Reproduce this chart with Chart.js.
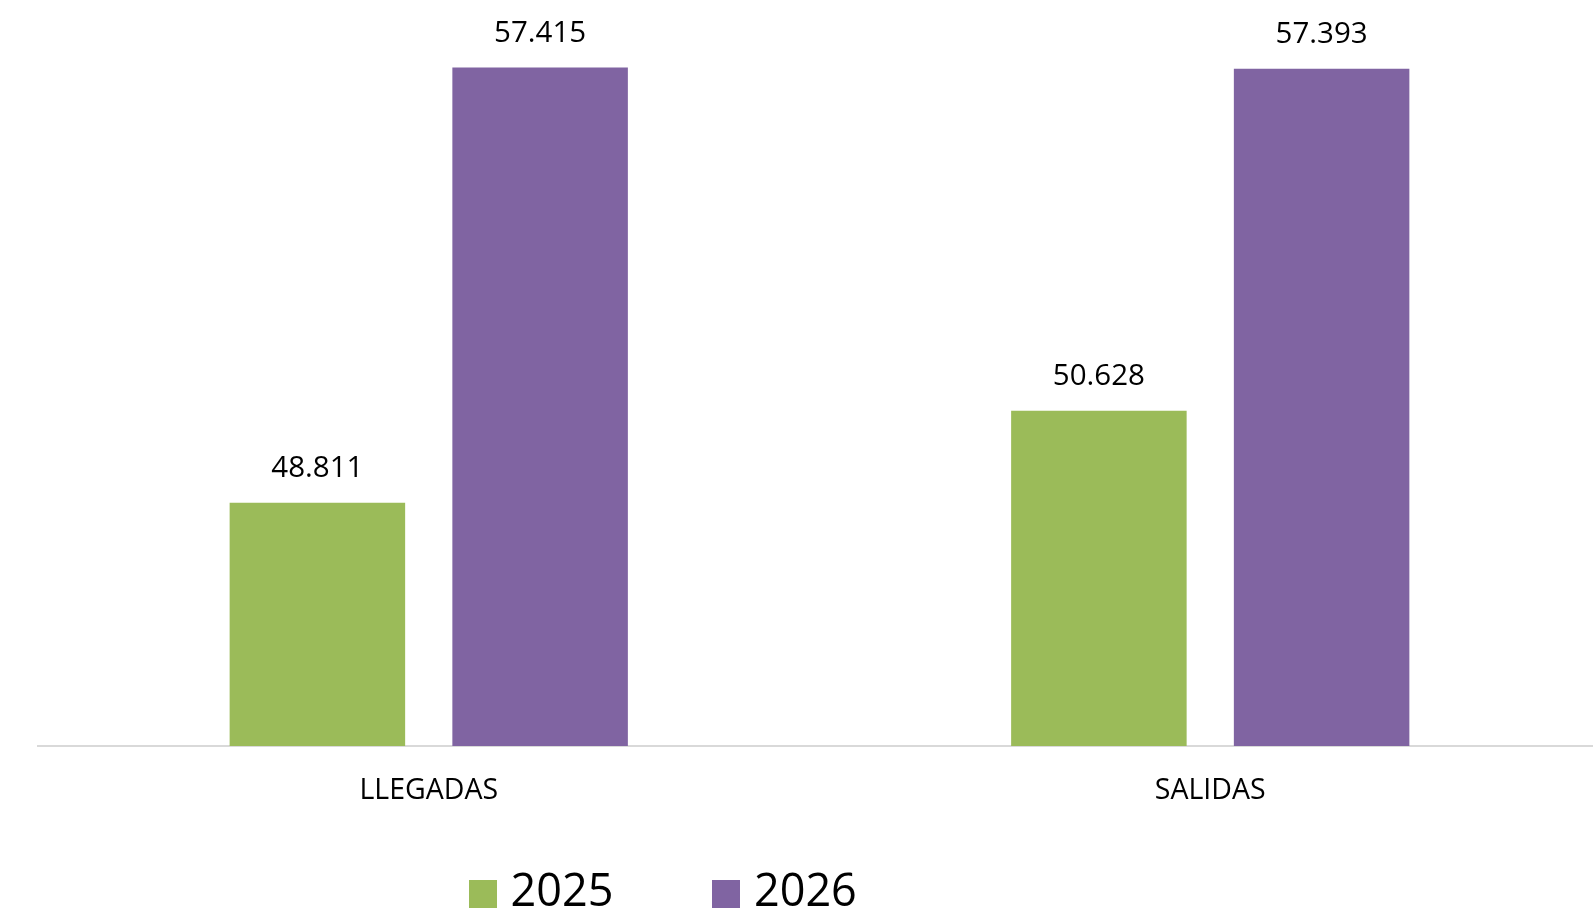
<!DOCTYPE html>
<html>
<head>
<meta charset="utf-8">
<script src="https://cdn.jsdelivr.net/npm/chart.js@4.4.1/dist/chart.umd.min.js"></script>
<style>
  html, body { margin: 0; padding: 0; background: #ffffff; overflow: hidden; }
  #wrap { width: 1601px; height: 915px; position: relative; }
</style>
</head>
<body>
<div id="wrap"><canvas id="c"></canvas></div>
<script>
const categories = ["LLEGADAS", "SALIDAS"];
const seriesNames = ["2025", "2026"];
const values2025 = [48811, 50628];
const values2026 = [57415, 57393];
const colors = ["#9BBB59", "#8064A2"];
const yMin = 44000;
const yMax = 58000;

function fmt(v) {
  const s = String(Math.round(v));
  return s.replace(/\B(?=(\d{3})+(?!\d))/g, ".");
}

const FONT = "'Open Sans', sans-serif";

function makeSwatch(color) {
  const cv = document.createElement('canvas');
  cv.width = 28; cv.height = 28;
  const g = cv.getContext('2d');
  g.fillStyle = color;
  g.fillRect(0, 0, 28, 28);
  return cv;
}
const swatches = colors.map(makeSwatch);

const valueLabels = {
  id: 'valueLabels',
  afterDatasetsDraw(chart) {
    const ctx = chart.ctx;
    ctx.save();
    ctx.font = "29.5px " + FONT;
    ctx.fillStyle = "#000000";
    ctx.textAlign = "center";
    ctx.textBaseline = "middle";
    chart.data.datasets.forEach((ds, i) => {
      const meta = chart.getDatasetMeta(i);
      meta.data.forEach((el, j) => {
        ctx.fillText(fmt(ds.data[j]), el.x, el.y - 34);
      });
    });
    ctx.restore();
  }
};

const legendPlace = {
  id: 'legendPlace',
  afterLayout(chart) {
    const lg = chart.legend;
    if (!lg || !lg.lineWidths) return;
    const pad = lg.options.labels.padding;
    const start = (lg.left + pad + lg.right - lg.lineWidths[0]) / 2;
    const dx = 478 - start;
    lg.left += dx;
    lg.right += dx;
    lg.top = 871 - pad;
    lg.bottom = 915;
  }
};

new Chart(document.getElementById('c'), {
  type: 'bar',
  data: {
    labels: categories,
    datasets: [
      { label: seriesNames[0], data: values2025, backgroundColor: colors[0], borderWidth: 0 },
      { label: seriesNames[1], data: values2026, backgroundColor: colors[1], borderWidth: 0 }
    ]
  },
  options: {
    responsive: true,
    maintainAspectRatio: false,
    animation: false,
    events: [],
    layout: { padding: { left: 38, right: 0, top: 38, bottom: 0 } },
    datasets: { bar: { categoryPercentage: 0.570, barPercentage: 0.788 } },
    scales: {
      x: {
        grid: { display: false },
        border: { display: true, color: '#d9d9d9', width: 2 },
        ticks: { color: '#000000', font: { family: FONT, size: 28.5 }, padding: 20 },
        afterFit(scale) { scale.height = 109; }
      },
      y: {
        display: false,
        min: yMin,
        max: yMax
      }
    },
    plugins: {
      tooltip: { enabled: false },
      legend: {
        position: 'bottom',
        maxHeight: 60,
        labels: {
          usePointStyle: true,
          pointStyleWidth: 10,
          boxWidth: 10,
          boxHeight: 28,
          padding: 108,
          color: '#000000',
          font: { family: FONT, size: 45 },
          generateLabels(chart) {
            const items = Chart.defaults.plugins.legend.labels.generateLabels(chart);
            items.forEach((it, i) => { it.pointStyle = swatches[i]; });
            return items;
          }
        }
      }
    }
  },
  plugins: [valueLabels, legendPlace]
});
</script>
</body>
</html>
